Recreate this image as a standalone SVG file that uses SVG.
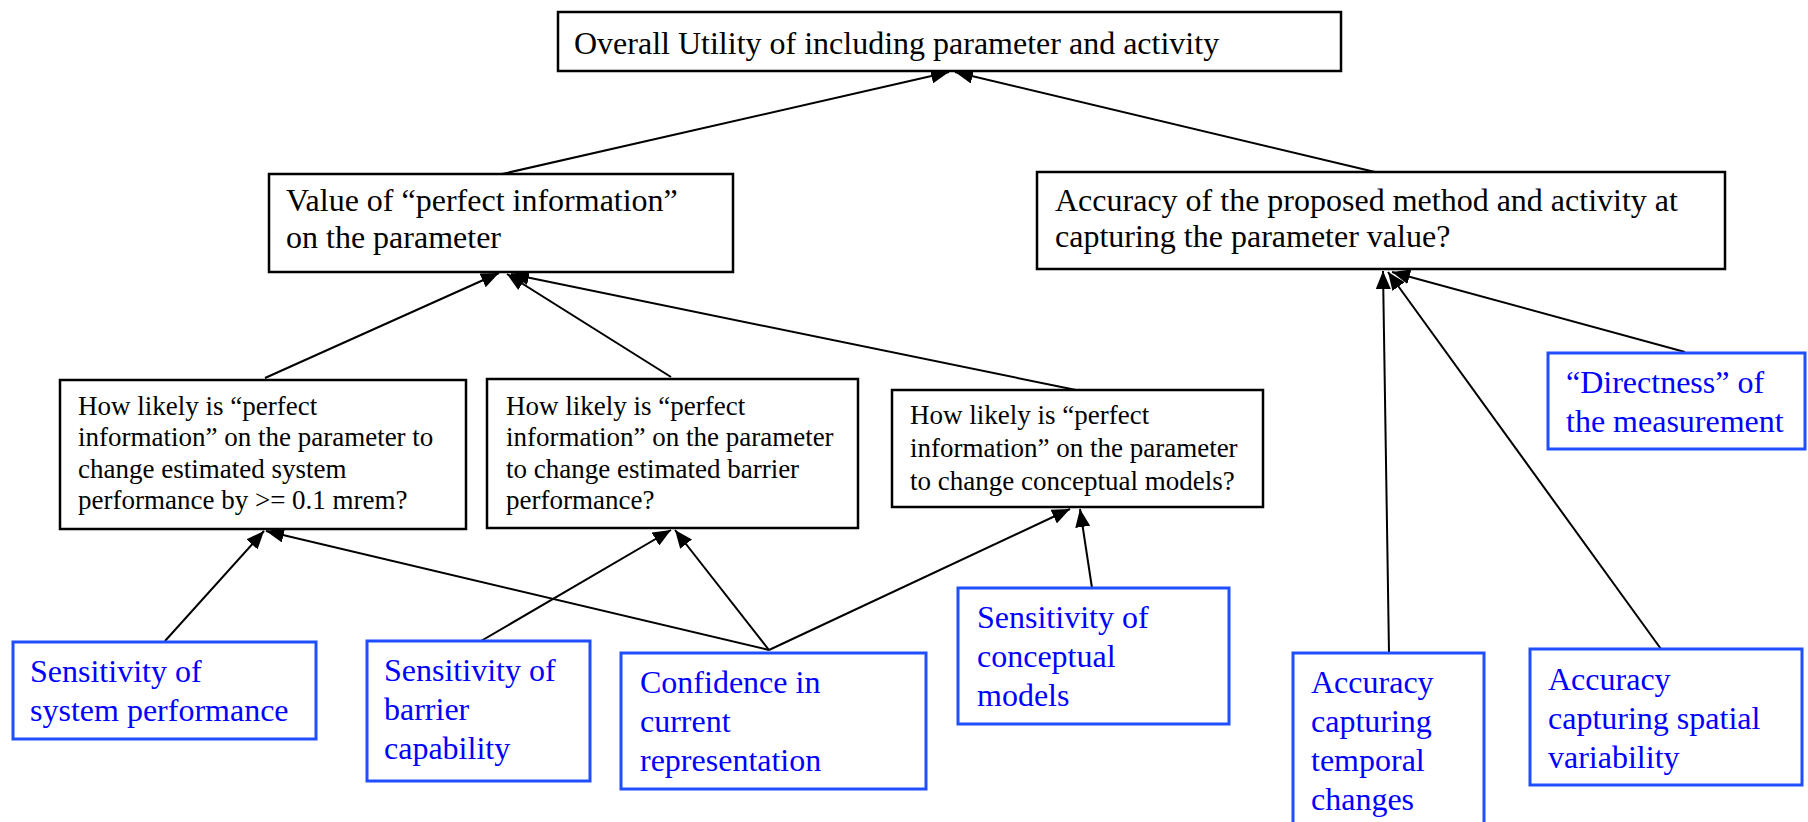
<svg xmlns="http://www.w3.org/2000/svg" width="1808" height="822" viewBox="0 0 1808 822">
<style>
  .bk { fill: #ffffff; stroke: #000000; stroke-width: 2.5; }
  .bl { fill: #ffffff; stroke: #1f4fff; stroke-width: 3; }
  .tb { font-family: "Liberation Serif", "Times New Roman", serif; font-size: 32px; fill: #000000; }
  .ts { font-family: "Liberation Serif", "Times New Roman", serif; font-size: 27px; fill: #000000; }
  .tbl { font-family: "Liberation Serif", "Times New Roman", serif; font-size: 32px; fill: #0000ff; }
  .cn line { stroke: #000000; stroke-width: 2; }
</style>
<defs>
  <marker id="ah" viewBox="0 0 18 15" refX="18" refY="7.5" markerWidth="18" markerHeight="15" orient="auto" markerUnits="userSpaceOnUse">
    <path d="M0,0 L18,7.5 L0,15 z" fill="#000000"/>
  </marker>
</defs>
<rect width="1808" height="822" fill="#ffffff"/>

<g id="connectors" class="cn">
  <line x1="502" y1="174" x2="949" y2="72" marker-end="url(#ah)"/>
  <line x1="1375" y1="172" x2="955" y2="72" marker-end="url(#ah)"/>
  <line x1="265" y1="378" x2="499" y2="273" marker-end="url(#ah)"/>
  <line x1="671" y1="377" x2="507" y2="274" marker-end="url(#ah)"/>
  <line x1="1076" y1="390" x2="511" y2="274" marker-end="url(#ah)"/>
  <line x1="165" y1="641" x2="264" y2="531" marker-end="url(#ah)"/>
  <line x1="769" y1="650" x2="266" y2="531" marker-end="url(#ah)"/>
  <line x1="481" y1="641" x2="671" y2="530" marker-end="url(#ah)"/>
  <line x1="769" y1="650" x2="675" y2="530" marker-end="url(#ah)"/>
  <line x1="769" y1="650" x2="1070" y2="509" marker-end="url(#ah)"/>
  <line x1="1092" y1="588" x2="1080" y2="509" marker-end="url(#ah)"/>
  <line x1="1389" y1="653" x2="1383" y2="271" marker-end="url(#ah)"/>
  <line x1="1661" y1="649" x2="1388" y2="272" marker-end="url(#ah)"/>
  <line x1="1685" y1="352" x2="1392" y2="272" marker-end="url(#ah)"/>
</g>

<g id="overall">
  <rect class="bk" x="558" y="12" width="783" height="59"/>
  <text class="tb" x="574" y="54">Overall Utility of including parameter and activity</text>
</g>

<g id="value">
  <rect class="bk" x="269" y="174" width="464" height="98"/>
  <text class="tb" x="286" y="211">Value of “perfect information”</text>
  <text class="tb" x="286" y="248">on the parameter</text>
</g>

<g id="accuracy">
  <rect class="bk" x="1037" y="172" width="688" height="97"/>
  <text class="tb" x="1055" y="211">Accuracy of the proposed method and activity at</text>
  <text class="tb" x="1055" y="247">capturing the parameter value?</text>
</g>

<g id="likely-system">
  <rect class="bk" x="60" y="380" width="406" height="149"/>
  <text class="ts" x="78" y="415">How likely is “perfect</text>
  <text class="ts" x="78" y="446">information” on the parameter to</text>
  <text class="ts" x="78" y="478">change estimated system</text>
  <text class="ts" x="78" y="509">performance by &gt;= 0.1 mrem?</text>
</g>

<g id="likely-barrier">
  <rect class="bk" x="487" y="379" width="371" height="149"/>
  <text class="ts" x="506" y="415">How likely is “perfect</text>
  <text class="ts" x="506" y="446">information” on the parameter</text>
  <text class="ts" x="506" y="478">to change estimated barrier</text>
  <text class="ts" x="506" y="509">performance?</text>
</g>

<g id="likely-conceptual">
  <rect class="bk" x="892" y="390" width="371" height="117"/>
  <text class="ts" x="910" y="424">How likely is “perfect</text>
  <text class="ts" x="910" y="457">information” on the parameter</text>
  <text class="ts" x="910" y="490">to change conceptual models?</text>
</g>

<g id="directness">
  <rect class="bl" x="1548" y="353" width="257" height="96"/>
  <text class="tbl" x="1566" y="393">“Directness” of</text>
  <text class="tbl" x="1566" y="432">the measurement</text>
</g>

<g id="sens-system">
  <rect class="bl" x="13" y="642" width="303" height="97"/>
  <text class="tbl" x="30" y="682">Sensitivity of</text>
  <text class="tbl" x="30" y="721">system performance</text>
</g>

<g id="sens-barrier">
  <rect class="bl" x="367" y="641" width="223" height="140"/>
  <text class="tbl" x="384" y="681">Sensitivity of</text>
  <text class="tbl" x="384" y="720">barrier</text>
  <text class="tbl" x="384" y="759">capability</text>
</g>

<g id="confidence">
  <rect class="bl" x="621" y="653" width="305" height="136"/>
  <text class="tbl" x="640" y="693">Confidence in</text>
  <text class="tbl" x="640" y="732">current</text>
  <text class="tbl" x="640" y="771">representation</text>
</g>

<g id="sens-conceptual">
  <rect class="bl" x="958" y="588" width="271" height="136"/>
  <text class="tbl" x="977" y="628">Sensitivity of</text>
  <text class="tbl" x="977" y="667">conceptual</text>
  <text class="tbl" x="977" y="706">models</text>
</g>

<g id="acc-temporal">
  <rect class="bl" x="1293" y="653" width="191" height="180"/>
  <text class="tbl" x="1311" y="693">Accuracy</text>
  <text class="tbl" x="1311" y="732">capturing</text>
  <text class="tbl" x="1311" y="771">temporal</text>
  <text class="tbl" x="1311" y="810">changes</text>
</g>

<g id="acc-spatial">
  <rect class="bl" x="1530" y="649" width="272" height="136"/>
  <text class="tbl" x="1548" y="690">Accuracy</text>
  <text class="tbl" x="1548" y="729">capturing spatial</text>
  <text class="tbl" x="1548" y="768">variability</text>
</g>
</svg>
